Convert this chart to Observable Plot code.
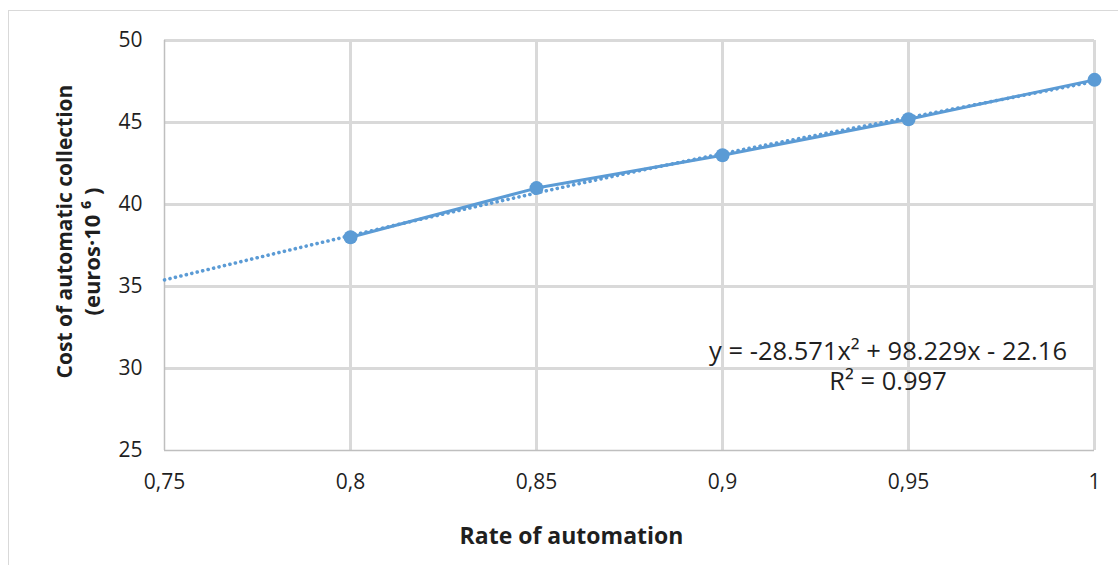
<!DOCTYPE html>
<html>
<head>
<meta charset="utf-8">
<script src="https://cdn.jsdelivr.net/npm/d3@7"></script>
<script src="https://cdn.jsdelivr.net/npm/@observablehq/plot@0.6"></script>
<style>
  html, body { margin: 0; padding: 0; background: #fff; }
  #wrap { position: relative; width: 1118px; height: 565px; overflow: hidden; }
  #border { position: absolute; left: 8px; top: 10px; width: 1200px; height: 700px; border-left: 1.5px solid #d9d9d9; border-top: 1.5px solid #d9d9d9; pointer-events: none; }
  #chart { position: absolute; left: 0; top: 0; }
</style>
</head>
<body>
<div id="wrap"><div id="chart"></div><div id="border"></div></div>
<script>
// Observed data
const rates = [0.8, 0.85, 0.9, 0.95, 1];
const costs = [38.0, 41.0, 43.0, 45.2, 47.6];

// Dotted trendline
const trendRates = [0.75, 0.8, 0.85, 0.9, 0.95, 1];
const trendCosts = [35.4, 38.1, 40.7, 43.1, 45.3, 47.5];

const xTicks = [0.75, 0.8, 0.85, 0.9, 0.95, 1];
const yTicks = [25, 30, 35, 40, 45, 50];

const equationText = "y = -28.571x² + 98.229x - 22.16\nR² = 0.997";
const equationPos = [{x: 0.9445, y: 30.2}];

const xTitle = "Rate of automation";
const yTitle1 = "Cost of automatic collection";
const yTitle2 = "(euros·10 ⁶ )";

const points = rates.map((r, i) => ({x: r, y: costs[i]}));
const trend = trendRates.map((r, i) => ({x: r, y: trendCosts[i]}));

const blue = "#5b9bd5";
const grid = "#d9d9d9";
const ink = "#1f1f1f";

const chart = Plot.plot({
  width: 1118,
  height: 565,
  marginLeft: 164,
  marginRight: 24,
  marginTop: 40,
  marginBottom: 115,
  style: {fontFamily: "'Open Sans', sans-serif", fontSize: "21px", color: ink, background: "transparent"},
  x: {domain: [0.75, 1], ticks: xTicks, tickSize: 0, tickPadding: 24, tickFormat: d => String(d).replace(".", ","), label: null},
  y: {domain: [25, 50], ticks: yTicks, tickSize: 0, tickPadding: 22, label: null},
  marks: [
    Plot.ruleY(yTicks.filter(t => t > 25), {stroke: grid, strokeWidth: 3}),
    Plot.ruleX(xTicks.filter(t => t > 0.75), {stroke: grid, strokeWidth: 3}),
    Plot.ruleX([0.75], {stroke: "#bfbfbf", strokeWidth: 1.5}),
    Plot.ruleY([25], {stroke: "#bfbfbf", strokeWidth: 1.5}),
    Plot.line(trend, {x: "x", y: "y", curve: "natural", stroke: blue, strokeWidth: 3.6, strokeDasharray: "0.1 5.5", strokeLinecap: "round"}),
    Plot.line(points, {x: "x", y: "y", stroke: blue, strokeWidth: 3}),
    Plot.dot(points, {x: "x", y: "y", r: 7, fill: blue, stroke: null}),
    Plot.text(equationPos, {x: "x", y: "y", text: () => equationText, fill: ink, fontSize: 25.5, lineHeight: 1.2, textAnchor: "middle"}),
    Plot.text([xTitle], {frameAnchor: "bottom", dx: -58, dy: 93, text: d => d, fill: ink, fontSize: 23, fontWeight: "bold", textAnchor: "middle"}),
    Plot.text([yTitle1], {frameAnchor: "left", dx: -99, dy: -14, rotate: -90, text: d => d, fill: ink, fontSize: 21, fontWeight: "bold", textAnchor: "middle"}),
    Plot.text([yTitle2], {frameAnchor: "left", dx: -72, dy: 6, rotate: -90, text: d => d, fill: ink, fontSize: 22, fontWeight: "bold", textAnchor: "middle"})
  ]
});
document.getElementById("chart").appendChild(chart);
</script>
</body>
</html>
